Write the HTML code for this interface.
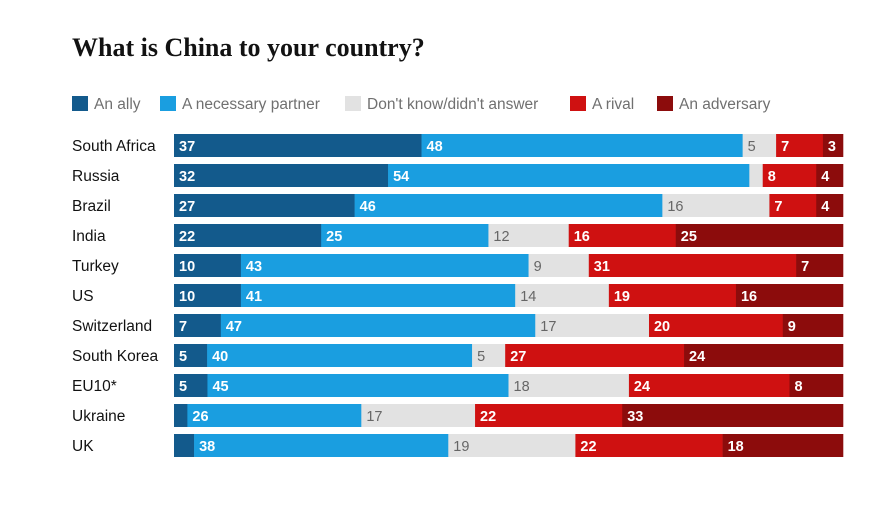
<!DOCTYPE html>
<html><head><meta charset="utf-8"><style>
body{margin:0;background:#fff;font-family:"Liberation Sans","DejaVu Sans",sans-serif;}
#wrap{position:relative;width:895px;height:507px;overflow:hidden;}
h1{position:absolute;left:72px;top:33px;margin:0;font-family:"Liberation Serif",serif;font-size:26px;font-weight:bold;color:#121212;}
</style></head><body>
<div id="wrap">
<h1>What is China to your country?</h1>
<svg id="svg" width="895" height="507" style="position:absolute;left:0;top:0"></svg>
</div>
<script>
const countries=["South Africa","Russia","Brazil","India","Turkey","US","Switzerland","South Korea","EU10*","Ukraine","UK"];
const ally=[37,32,27,22,10,10,7,5,5,2,3];
const partner=[48,54,46,25,43,41,47,40,45,26,38];
const dontKnow=[5,2,16,12,9,14,17,5,18,17,19];
const rival=[7,8,7,16,31,19,20,27,24,22,22];
const adversary=[3,4,4,25,7,16,9,24,8,33,18];
const seriesNames=["An ally","A necessary partner","Don't know/didn't answer","A rival","An adversary"];
const series=[ally,partner,dontKnow,rival,adversary];
const colors=["#135a8c","#1a9ee0","#e2e2e2","#cf1111","#8c0c0c"];
const textColors=["#fff","#fff","#666","#fff","#fff"];
const NS="http://www.w3.org/2000/svg";
const svg=document.getElementById('svg');
const x0=174,x1=843,rowY0=134,rowStep=30,barH=23;
function xScale(v,total){return (x1-x0)*v/total;}
function yScale(i){return rowY0+i*rowStep;}
function mk(tag,attrs){const e=document.createElementNS(NS,tag);for(const k in attrs)e.setAttribute(k,attrs[k]);svg.appendChild(e);return e;}
const legX=[72,160,345,570,657];
seriesNames.forEach((n,s)=>{
 const r=mk('rect',{x:legX[s],y:96,width:16,height:15,fill:colors[s]});
 
 
 const t=mk('text',{x:legX[s]+22,y:109,'font-size':15.5,fill:'#707070'});
 t.textContent=n;
 
 
});
countries.forEach((c,i)=>{
 const y=yScale(i);
 const lab=mk('text',{x:72,y:y+17,'font-size':15.5,fill:'#121212'});
 lab.textContent=c;
 
 
 let total=0;series.forEach(s=>total+=s[i]);
 let cx=x0;
 series.forEach((s,k)=>{
  const w=xScale(s[i],total);
  const r=mk('rect',{x:cx,y:y,width:w+0.3,height:barH,fill:colors[k]});
  
  
  if(s[i]>=3 && !(k==0&&s[i]<5) && !(k==2&&s[i]<5)){
   const t=mk('text',{x:cx+5,y:y+17,'font-size':14.5,'font-weight':k==2?'normal':'bold',fill:textColors[k]});
   t.textContent=s[i];
   
   
  }
  cx+=w;
 });
});
</script>
</body></html>
